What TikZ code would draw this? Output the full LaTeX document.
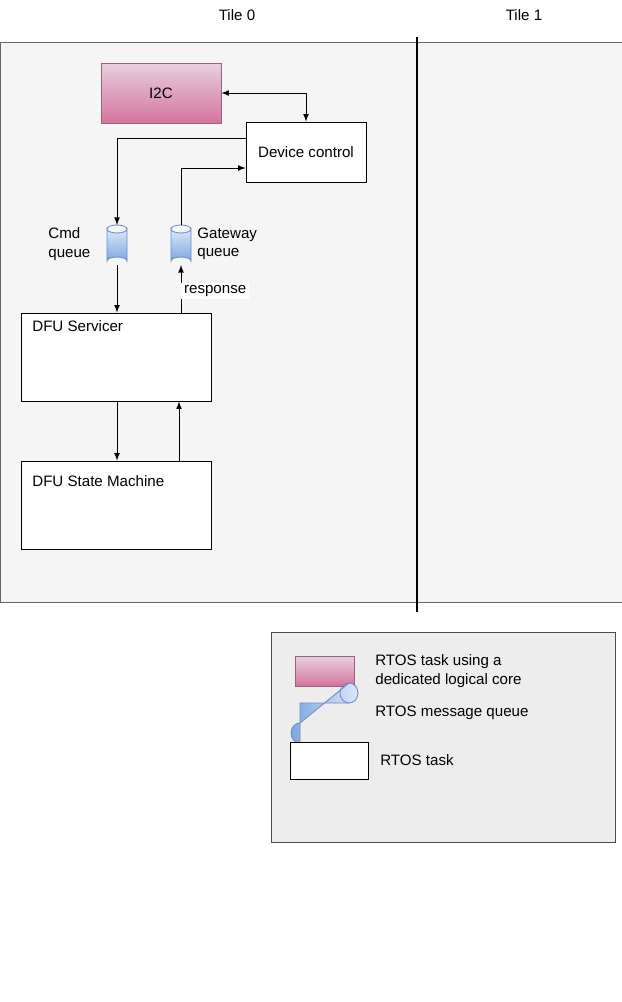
\documentclass[tikz,border=0pt]{standalone}
\usepackage{fontspec}
\setmainfont{Liberation Sans}
\begin{document}
\begin{tikzpicture}[x=0.02cm,y=-0.02cm,
  every node/.style={font=\fontsize{8.6}{10.5}\selectfont, inner sep=0pt},
  task/.style={draw=black, fill=white, line width=0.5pt},
  core/.style={draw=pinkstroke, top color=pinktop, bottom color=pinkbot, line width=0.5pt},
  arr/.style={-latex, line width=0.5pt},
  lbl/.style={align=left, anchor=west}]
\definecolor{pinktop}{HTML}{E6D0DE}\definecolor{pinkbot}{HTML}{D5739D}\definecolor{pinkstroke}{HTML}{996185}
\definecolor{qlight}{HTML}{DAE8FC}\definecolor{qdark}{HTML}{7EA6E0}\definecolor{qstroke}{HTML}{6C8EBF}
\useasboundingbox (0,0) rectangle (622,1002);
\fill[white] (0,0) rectangle (622,1002);
\draw[draw=gray!80!black, fill=black!4, line width=0.5pt] (0,42) rectangle (622,602);
\draw[line width=0.6pt] (417,37) -- (417,612);
\node at (237,15) {Tile 0};
\node at (524,15) {Tile 1};
% tasks
\node[core, minimum width=2.4cm, minimum height=1.2cm] (i2c) at (161,93) {I2C};
\node[task, minimum width=2.4cm, minimum height=1.2cm] (dev) at (306,152) {Device control};
\node[task, minimum width=3.8cm, minimum height=1.76cm] (svc) at (116,357) {};
\node[anchor=north west] at (32,320) {DFU Servicer};
\node[task, minimum width=3.8cm, minimum height=1.76cm] (sm) at (116,505) {};
\node[anchor=north west] at (32,475) {DFU State Machine};
% queues
\foreach \n/\x in {cmd/117, gw/181}{
  \shade[top color=qlight, bottom color=qdark, draw=qstroke, line width=0.5pt]
    (\x-10,229) -- (\x-10,261) arc[start angle=180,end angle=360,x radius=10,y radius=4] -- (\x+10,229) arc[start angle=0,end angle=180,x radius=10,y radius=4] -- cycle;
  \draw[qstroke, line width=0.5pt] (\x-10,229) arc[start angle=180,end angle=360,x radius=10,y radius=4];
  \coordinate (\n t) at (\x,225);
  \coordinate (\n b) at (\x,265);
}
\node[lbl] at (48,244) {Cmd\\queue};
\node[lbl] at (197,244) {Gateway\\queue};
% connectors
\coordinate (c1) at (306,93);
\draw[latex-latex, line width=0.5pt] (i2c.east) -- (c1) -- (dev.north);
\draw[arr] (dev.west |- 0,138) -- (117,138) -- (cmdt);
\draw[arr] (cmdb) -- (svc.north -| cmdb);
\draw[arr] (svc.north -| gwb) -- node[right, fill=white, inner sep=1.5pt, pos=0.45] {response} (gwb);
\draw[arr] (gwt) -- (181,168) -- (dev.west |- 0,168);
\draw[arr] (svc.south -| 117,0) -- (sm.north -| 117,0);
\draw[arr] (sm.north -| 179,0) -- (svc.south -| 179,0);
% legend
\draw[draw=black!70, fill=black!7, line width=0.5pt] (271,632) rectangle (615,842);
\node[core, minimum width=1.18cm, minimum height=0.6cm] (lc) at (324.5,671) {};
\node[lbl] at (375,671) {RTOS task using a\\dedicated logical core};
\shade[left color=qdark, right color=qlight, draw=qstroke, line width=0.5pt]
  (300,703) -- (349,703) arc[start angle=90,end angle=-90,x radius=9,y radius=10] -- (300,723) arc[start angle=270,end angle=90,x radius=9,y radius=10] -- cycle;
\draw[qstroke, line width=0.5pt] (349,703) arc[start angle=90,end angle=270,x radius=9,y radius=10];
\node[lbl] at (375,713) {RTOS message queue};
\node[task, minimum width=1.56cm, minimum height=0.74cm] (lt) at (329,760.5) {};
\node[lbl] at (380,760) {RTOS task};
\end{tikzpicture}
\end{document}
